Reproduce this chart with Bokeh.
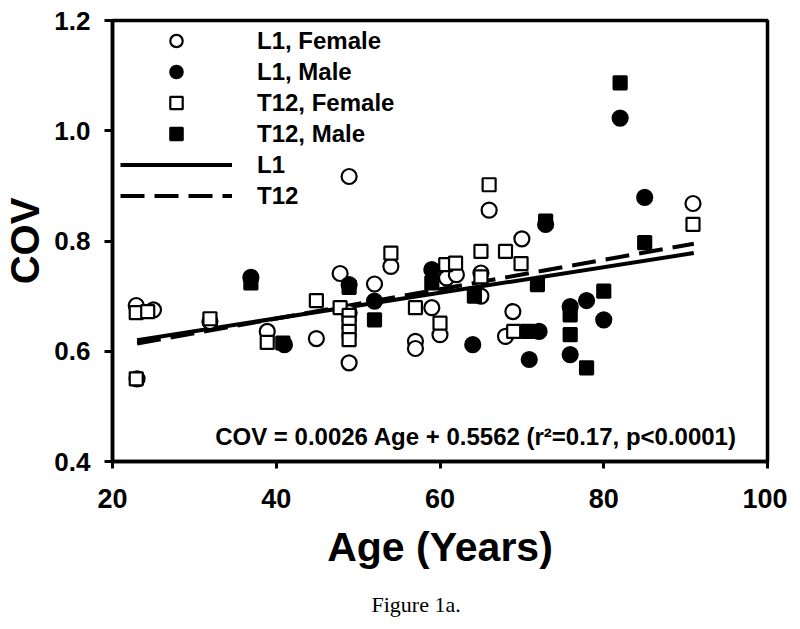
from bokeh.plotting import figure
from bokeh.models import Range1d, FixedTicker, PrintfTickFormatter, Legend, LegendItem, Label, Title
from bokeh.embed import file_html
from bokeh.resources import INLINE

# ---- data ----
l1_female_age = [22.9, 23.0, 25.0, 31.9, 38.9, 44.9, 47.8, 48.9, 48.9, 48.9, 52.0, 54.0, 57.0, 57.0,
                 59.0, 60.0, 60.8, 62.0, 65.0, 65.0, 66.0, 68.0, 68.9, 70.0, 90.9]
l1_female_cov = [0.683, 0.550, 0.675, 0.654, 0.636, 0.623, 0.741, 0.579, 0.917, 0.670, 0.722, 0.754, 0.618, 0.605,
                 0.679, 0.630, 0.733, 0.739, 0.742, 0.700, 0.856, 0.627, 0.672, 0.804, 0.868]

l1_male_age = [36.9, 41.0, 48.9, 52.0, 59.0, 64.0, 70.9, 72.1, 72.9, 75.9, 75.9, 77.9, 80.0, 82.0, 85.0]
l1_male_cov = [0.734, 0.612, 0.721, 0.691, 0.748, 0.612, 0.585, 0.636, 0.830, 0.681, 0.594, 0.692, 0.657, 1.023, 0.879]

t12_female_age = [22.9, 22.9, 24.3, 31.9, 38.9, 44.9, 47.8, 48.9, 48.9, 48.9, 48.9, 54.0, 57.0, 60.0,
                  60.7, 61.9, 65.0, 65.0, 66.0, 68.0, 69.0, 69.9, 90.9]
t12_female_cov = [0.670, 0.550, 0.672, 0.659, 0.616, 0.692, 0.679, 0.665, 0.651, 0.636, 0.621, 0.778, 0.679, 0.651,
                  0.757, 0.760, 0.781, 0.735, 0.902, 0.781, 0.636, 0.759, 0.830]

t12_male_age = [36.9, 40.8, 48.9, 52.0, 59.0, 64.2, 70.7, 71.9, 72.9, 75.9, 75.9, 77.9, 80.0, 82.0, 85.0]
t12_male_cov = [0.724, 0.615, 0.716, 0.657, 0.724, 0.700, 0.636, 0.721, 0.836, 0.666, 0.630, 0.570, 0.709, 1.087, 0.797]

fit_age = [23, 91]
l1_slope, l1_intercept = 0.002324, 0.5666
t12_slope, t12_intercept = 0.002662, 0.5528

x_ticks = [20, 40, 60, 80, 100]
y_ticks = [0.4, 0.6, 0.8, 1.0, 1.2]

equation_text = "COV = 0.0026 Age + 0.5562 (r\u00b2=0.17, p<0.0001)"

FONT = "Liberation Sans"

p = figure(frame_width=655, frame_height=441,
           x_range=Range1d(20, 100), y_range=Range1d(0.4, 1.2),
           output_backend="svg", toolbar_location=None,
           min_border_left=107, min_border_right=20, min_border_top=20, min_border_bottom=0,
           background_fill_color="white", border_fill_color="white")

p.grid.visible = False
p.outline_line_color = "black"
p.outline_line_width = 3.5

for ax in (p.xaxis[0], p.yaxis[0]):
    ax.axis_line_width = 3.5
    ax.major_tick_line_width = 3
    ax.major_tick_in = 0
    ax.minor_tick_line_color = None
    ax.major_label_text_font = FONT
    ax.major_label_text_font_style = "bold"
    ax.major_label_text_color = "black"
    ax.axis_label_text_font = FONT
    ax.axis_label_text_font_style = "bold"
    ax.axis_label_text_color = "black"

p.xaxis.ticker = FixedTicker(ticks=x_ticks)
p.yaxis.ticker = FixedTicker(ticks=y_ticks)
p.yaxis.formatter = PrintfTickFormatter(format="%.1f")

p.xaxis.major_tick_out = 7
p.xaxis.major_label_text_font_size = "27px"
p.xaxis.major_label_standoff = 20
p.xaxis.axis_label = "Age (Years)"
p.xaxis.axis_label_text_font_size = "41px"
p.xaxis.axis_label_standoff = 13

p.yaxis.major_tick_out = 8
p.yaxis.major_label_text_font_size = "26px"
p.yaxis.major_label_standoff = 14
p.yaxis.axis_label = "COV"
p.yaxis.axis_label_text_font_size = "40px"
p.yaxis.axis_label_standoff = 4

# regression lines
r_l1 = p.line(fit_age, [l1_intercept + l1_slope * a for a in fit_age],
              line_color="black", line_width=4)
r_t12 = p.line(fit_age, [t12_intercept + t12_slope * a for a in fit_age],
               line_color="black", line_width=4, line_dash="24 10")

# markers
r_l1f = p.scatter(l1_female_age, l1_female_cov, marker="circle", size=15,
                  fill_color="white", line_color="black", line_width=2.2)
r_t12f = p.scatter(t12_female_age, t12_female_cov, marker="square", size=13,
                   fill_color="white", line_color="black", line_width=2.2)
r_l1m = p.scatter(l1_male_age, l1_male_cov, marker="circle", size=15,
                  fill_color="black", line_color="black", line_width=2.2)
r_t12m = p.scatter(t12_male_age, t12_male_cov, marker="square", size=13,
                   fill_color="black", line_color="black", line_width=2.2)

legend = Legend(items=[
    LegendItem(label="L1, Female", renderers=[r_l1f]),
    LegendItem(label="L1, Male", renderers=[r_l1m]),
    LegendItem(label="T12, Female", renderers=[r_t12f]),
    LegendItem(label="T12, Male", renderers=[r_t12m]),
    LegendItem(label="L1", renderers=[r_l1]),
    LegendItem(label="T12", renderers=[r_t12]),
], location=(8, 250), glyph_width=112, glyph_height=31, spacing=0,
    padding=0, margin=0, label_standoff=25, label_height=31,
    border_line_color=None, background_fill_alpha=0,
    label_text_font=FONT, label_text_font_style="bold", label_text_font_size="24px",
    label_text_color="black")
p.add_layout(legend)

p.add_layout(Label(x=64.4, y=0.446, text=equation_text, text_align="center",
                   text_baseline="alphabetic", text_font=FONT, text_font_style="bold",
                   text_font_size="24px", text_color="black"))

p.add_layout(Title(text="Figure 1a.", align="left", offset=259, standoff=35,
                   text_font="Liberation Serif", text_font_style="normal",
                   text_font_size="22px", text_color="black"), "below")

open("out.html", "w").write(file_html(p, INLINE))
